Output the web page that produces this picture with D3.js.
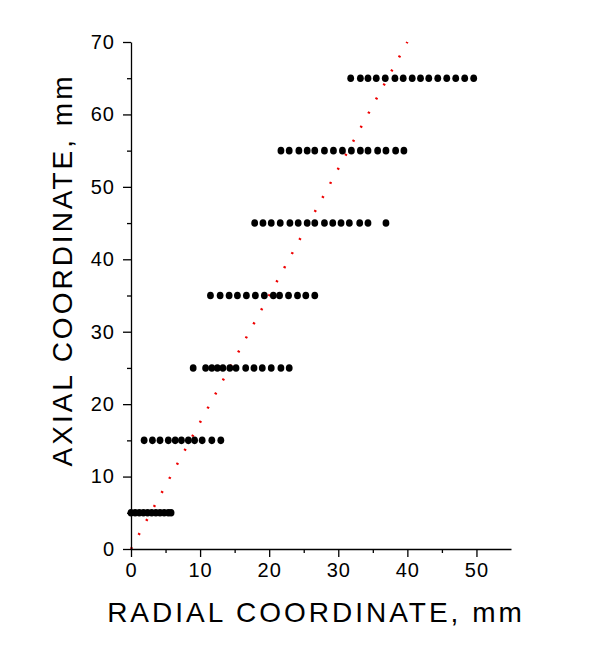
<!DOCTYPE html><html><head><script src="https://d3js.org/d3.v7.min.js"></script>
<style>body{margin:0;background:#fff}text{font-family:Arial,"Liberation Sans",sans-serif}</style></head><body>
<svg id="c" width="600" height="650"></svg>
<script>
const levels=[5,15,25,35,45,55,65];
const rows=[
 [0,0.6,1.2,1.8,2.4,3.0,3.6,4.2,4.8,5.4,5.8],
 [1.9,3.1,4.2,5.4,6.4,7.3,8.3,9.2,10.3,11.7,13.0],
 [9.0,10.8,11.7,12.5,13.3,14.3,15.2,16.6,17.8,19.0,20.3,21.7,22.9],
 [11.5,12.9,14.2,15.4,16.7,18.0,19.3,20.6,21.5,22.8,24.1,25.3,26.6],
 [17.9,19.1,20.3,21.6,23.0,24.2,25.5,26.6,28.0,29.2,30.4,31.6,33.1,34.3,36.9],
 [21.7,22.9,24.3,25.5,26.6,28.0,29.3,30.6,31.9,33.2,34.3,35.7,36.9,38.3,39.5],
 [31.8,33.2,34.3,35.5,36.8,38.2,39.4,40.7,41.9,43.1,44.4,45.7,47.0,48.3,49.6]];
const lineX=[0,40], lineY=[0,70];
const xTicks=[0,10,20,30,40,50], yTicks=[0,10,20,30,40,50,60,70];
const svg=d3.select("#c");
const x=d3.scaleLinear().domain([0,55]).range([131,511]);
const y=d3.scaleLinear().domain([0,70]).range([549,42]);
const pts=[];rows.forEach((r,i)=>r.forEach(v=>pts.push([v,levels[i]])));
svg.append("path").datum(lineX.map((v,i)=>[v,lineY[i]]))
 .attr("d",d3.line().x(d=>x(d[0])).y(d=>y(d[1])))
 .attr("stroke","#e00").attr("stroke-width",2.5).attr("stroke-dasharray","2,14").attr("fill","none");
svg.selectAll("ellipse").data(pts).join("ellipse").attr("cx",d=>x(d[0])).attr("cy",d=>y(d[1])).attr("rx",3.4).attr("ry",3.8).attr("fill","#000");
const xa=svg.append("g").attr("transform","translate(0,549)");
xa.call(d3.axisBottom(x).tickValues(xTicks).tickSize(8).tickSizeOuter(0).tickPadding(6));
xa.append("g").call(d3.axisBottom(x).tickValues([5,15,25,35,45]).tickSize(4).tickFormat(""));
const ya=svg.append("g").attr("transform","translate(131,0)");
ya.call(d3.axisLeft(y).tickValues(yTicks).tickSize(8).tickSizeOuter(0).tickPadding(8));
ya.append("g").call(d3.axisLeft(y).tickValues([5,15,25,35,45,55,65]).tickSize(4).tickFormat(""));
svg.selectAll(".domain").attr("stroke","#000").attr("stroke-width",1.3);
svg.selectAll(".tick line").attr("stroke","#000").attr("stroke-width",1.3);
svg.selectAll(".tick text").attr("font-size",20).attr("fill","#000").attr("letter-spacing",1);
svg.selectAll("g g .domain").remove();
svg.append("text").attr("x",316).attr("y",622).attr("text-anchor","middle").attr("font-size",28).attr("letter-spacing",3).text("RADIAL COORDINATE, mm");
svg.append("text").attr("transform","translate(72,270) rotate(-90)").attr("text-anchor","middle").attr("font-size",28).attr("letter-spacing",3).text("AXIAL COORDINATE, mm");
</script></body></html>
